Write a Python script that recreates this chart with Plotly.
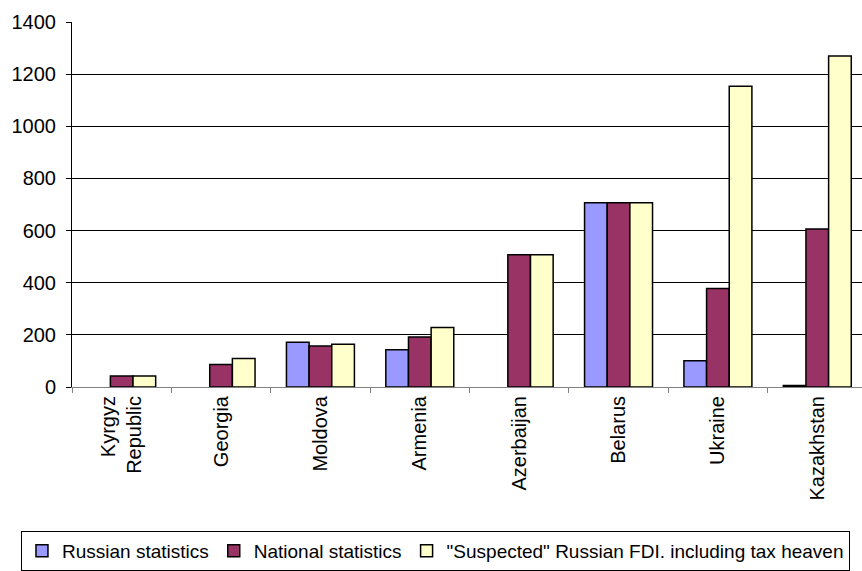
import plotly.graph_objects as go

countries = ["Kyrgyz<br>Republic", "Georgia", "Moldova", "Armenia",
             "Azerbaijan", "Belarus", "Ukraine", "Kazakhstan"]
russian_stats = [None, None, 172, 143, None, 707, 101, 6]
national_stats = [42, 86, 157, 192, 507, 707, 378, 606]
suspected_fdi = [42, 109, 164, 228, 507, 707, 1154, 1270]

series = [
    ("Russian statistics", russian_stats, "#9999FF"),
    ("National statistics", national_stats, "#993366"),
    ("\"Suspected\" Russian FDI. including tax heaven", suspected_fdi, "#FFFFCC"),
]

fig = go.Figure()
for name, vals, color in series:
    fig.add_trace(go.Bar(
        x=countries, y=vals, name=name,
        marker=dict(color=color, line=dict(color="black", width=1.5)),
    ))

font_main = "Liberation Sans, Arial, sans-serif"

fig.update_layout(
    width=862, height=571,
    margin=dict(l=72, r=0, t=22, b=180),
    paper_bgcolor="white", plot_bgcolor="white",
    barmode="group", bargap=0.316, bargroupgap=0,
    font=dict(family=font_main, size=20, color="black"),
    showlegend=True,
    legend=dict(
        orientation="h", x=-0.0646, xanchor="left", y=-0.3957, yanchor="top",
        bordercolor="black", borderwidth=1, bgcolor="white",
        font=dict(family=font_main, size=19),
        itemwidth=30, tracegroupgap=0,
    ),
)

fig.update_xaxes(
    type="category", range=[-0.5, 7.45],
    tickangle=-90, tickson="boundaries",
    ticks="outside", ticklen=5, tickcolor="#808080",
    showline=True, linecolor="#808080", linewidth=1,
    showgrid=False, zeroline=False,
    tickfont=dict(family=font_main, size=20),
)
fig.update_yaxes(
    range=[0, 1400], dtick=200,
    ticks="outside", ticklen=5, tickcolor="black",
    ticklabelstandoff=6,
    showline=True, linecolor="black", linewidth=1,
    showgrid=True, gridcolor="black", gridwidth=1,
    zeroline=False,
    tickfont=dict(family=font_main, size=20),
)

fig.write_html("out.html")
